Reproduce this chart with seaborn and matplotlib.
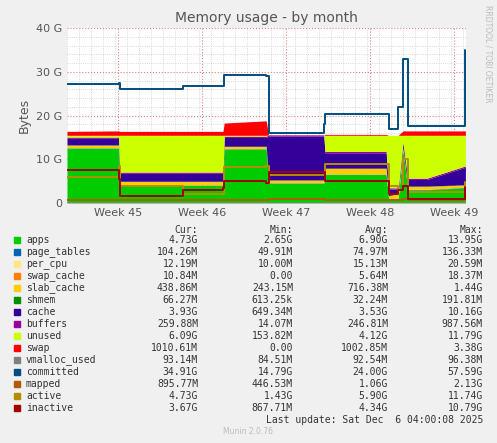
import matplotlib
matplotlib.use("Agg")
import matplotlib.pyplot as plt
import numpy as np
import seaborn as sns

# time axis in days since start of window
days = [0, 4.3, 4.4, 9.6, 9.7, 13.0, 13.1, 16.6, 16.8, 21.4, 21.5, 26.6, 26.8, 27.6, 28.0, 28.4, 30.0, 33.2]
week_pos = [4.25, 11.25, 18.25, 25.25, 32.25]
week_labels = ["Week 45", "Week 46", "Week 47", "Week 48", "Week 49"]

# stacked areas (G)
apps = [12.5, 12.5, 4, 4, 4, 4, 12.3, 12.3, 4.5, 4.5, 6.5, 6.5, 1, 1, 12, 3, 3, 3.5]
page_tables = [0.1] * 18
per_cpu = [0.015] * 18
swap_cache = [0.01] * 18
slab_cache = [0.6, 0.6, 0.8, 0.8, 0.8, 0.8, 0.5, 0.5, 0.6, 0.6, 1.3, 1.3, 0.5, 1.0, 0.5, 0.7, 0.7, 0.5]
shmem = [0.05] * 18
cache = [1.5, 1.5, 1.8, 1.8, 1.8, 1.8, 2.0, 2.0, 10.0, 10.0, 3.5, 3.5, 1.5, 1.0, 1.0, 1.5, 1.5, 4.0]
buffers = [0.3] * 18
unused = [0.4, 0.4, 8.4, 8.4, 8.4, 8.4, 0.2, 0.2, 0, 0, 3.7, 3.7, 12, 12, 1.5, 9.8, 9.8, 7]
swap = [0.9, 1.0, 0.9, 0.9, 0.9, 0.9, 2.8, 3.3, 0, 0, 0.2, 0.2, 0, 0, 1.0, 1.0, 1.0, 1.0]

# lines (G)
vmalloc_used = [0.09] * 18
committed = [27.3, 27.5, 26, 26, 26.8, 26.8, 29.3, 29, 16, 18, 20.3, 20.3, 17, 22, 33, 17.5, 17.5, 35]
mapped = [0.6, 0.6, 0.6, 0.6, 0.6, 0.6, 0.6, 0.6, 0.9, 0.9, 0.8, 0.8, 0.8, 0.8, 1.0, 0.8, 0.8, 0.9]
active = [6, 8.5, 4, 4, 2, 2, 8.2, 8.5, 6.5, 6.5, 9, 9, 4, 3, 10, 2.5, 2.5, 4.7]
inactive = [7.5, 5.5, 1.5, 1.5, 3, 3.5, 5, 4.5, 7, 7, 5, 5, 2, 3, 4, 1, 1, 3.7]

names = ["apps", "page_tables", "per_cpu", "swap_cache", "slab_cache", "shmem", "cache",
         "buffers", "unused", "swap", "vmalloc_used", "committed", "mapped", "active", "inactive"]
colors = ["#00cc00", "#0066b3", "#ffe680", "#ff8000", "#ffcc00", "#008f00", "#330099",
          "#990099", "#ccff00", "#ff0000", "#808080", "#004d80", "#b35a00", "#b38f00", "#a30000"]
cur = ["4.73G", "104.26M", "12.19M", "10.84M", "438.86M", "66.27M", "3.93G", "259.88M",
       "6.09G", "1010.61M", "93.14M", "34.91G", "895.77M", "4.73G", "3.67G"]
mins = ["2.65G", "49.91M", "10.00M", "0.00", "243.15M", "613.25k", "649.34M", "14.07M",
        "153.82M", "0.00", "84.51M", "14.79G", "446.53M", "1.43G", "867.71M"]
avgs = ["6.90G", "74.97M", "15.13M", "5.64M", "716.38M", "32.24M", "3.53G", "246.81M",
        "4.12G", "1002.85M", "92.54M", "24.00G", "1.06G", "5.90G", "4.34G"]
maxs = ["13.95G", "136.33M", "20.59M", "18.37M", "1.44G", "191.81M", "10.16G", "987.56M",
        "11.79G", "3.38G", "96.38M", "57.59G", "2.13G", "11.74G", "10.79G"]

sns.set_style("white")
plt.rcParams["font.family"] = ["DejaVu Sans"]
W, H = 497, 443
fig = plt.figure(figsize=(W / 100, H / 100), dpi=100, facecolor="#f0f0f0")
ax = fig.add_axes([67 / W, 1 - 203 / H, (466 - 67) / W, (203 - 28) / H])
ax.set_facecolor("white")

stack = [apps, page_tables, per_cpu, swap_cache, slab_cache, shmem, cache, buffers, unused, swap]
ax.stackplot(days, *stack, colors=colors[:10], linewidth=0)
lines = [vmalloc_used, committed, mapped, active, inactive]
for vals, c in zip(lines, colors[10:]):
    sns.lineplot(x=days, y=vals, color=c, linewidth=1.4, ax=ax, drawstyle="steps-post")

ax.set_xlim(0, 33.25)
ax.set_ylim(0, 40)
ax.set_yticks([0, 10, 20, 30, 40])
ax.set_yticklabels(["0", "10 G", "20 G", "30 G", "40 G"])
ax.set_yticks(np.arange(0, 40, 2), minor=True)
ax.set_xticks(week_pos)
ax.set_xticklabels(week_labels)
ax.set_xticks(np.arange(0, 33.25, 1), minor=True)
ax.grid(which="major", color="#e08080", linestyle=":", linewidth=0.8)
ax.grid(which="minor", color="#cccccc", linestyle=":", linewidth=0.6)
ax.tick_params(labelsize=8, colors="#555555", length=0)
for s in ax.spines.values():
    s.set_visible(False)
ax.set_ylabel("Bytes", fontsize=9, color="#555555")
ax.set_title("Memory usage - by month", fontsize=10, color="#555555", pad=4)
fig.text(488 / W, 1 - 5 / H, "RRDTOOL / TOBI OETIKER", rotation=270, fontsize=5.5,
         color="#bbbbbb", va="top", ha="center")

mono = "DejaVu Sans Mono"
fs = 7
def yy(p):
    return 1 - p / H
for x, t in [(198, "Cur:"), (293, "Min:"), (388, "Max:" if False else "Avg:"), (483, "Max:")]:
    fig.text(x / W, yy(230), t, ha="right", va="center", family=mono, fontsize=fs, color="#333333")
for i, n in enumerate(names):
    py = 240 + i * 12
    fig.patches.append(plt.Rectangle((14 / W, yy(py + 3)), 6 / W, 6 / H, color=colors[i],
                                     transform=fig.transFigure, figure=fig))
    fig.text(26 / W, yy(py), n, va="center", family=mono, fontsize=fs, color="#333333")
    for x, v in [(198, cur[i]), (293, mins[i]), (388, avgs[i]), (483, maxs[i])]:
        fig.text(x / W, yy(py), v, ha="right", va="center", family=mono, fontsize=fs, color="#333333")
fig.text(483 / W, yy(420), "Last update: Sat Dec  6 04:00:08 2025", ha="right", va="center",
         family=mono, fontsize=fs, color="#333333")
fig.text(248 / W, yy(432), "Munin 2.0.76", ha="center", va="center", fontsize=5.5, color="#bbbbbb")

fig.savefig("out.png", dpi=100, facecolor=fig.get_facecolor())
